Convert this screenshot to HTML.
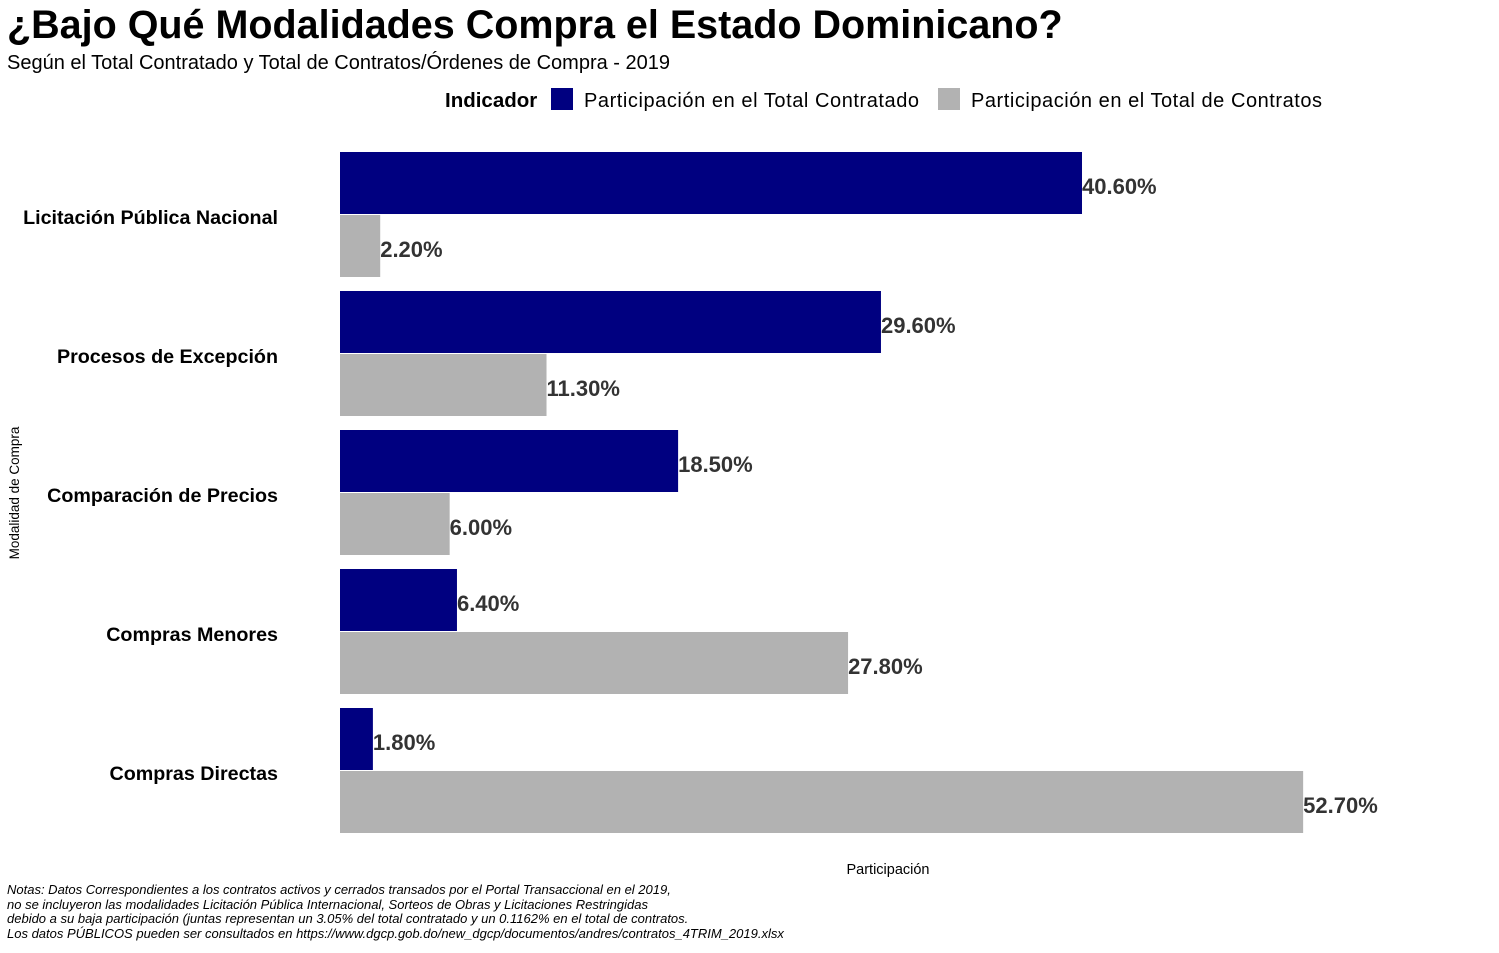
<!DOCTYPE html>
<html><head><meta charset="utf-8"><style>
body{margin:0;background:#fff;font-family:"Liberation Sans",Arial,sans-serif;}
</style></head><body>
<svg width="1499" height="948" xmlns="http://www.w3.org/2000/svg" font-family="Liberation Sans, Arial, sans-serif">
<text x="7" y="38" font-size="39.5" font-weight="bold" fill="#000">¿Bajo Qué Modalidades Compra el Estado Dominicano?</text>
<text x="7" y="69" font-size="20" fill="#000">Según el Total Contratado y Total de Contratos/Órdenes de Compra - 2019</text>
<g>
<text x="445" y="107" font-size="20.5" font-weight="bold">Indicador</text>
<rect x="551" y="88" width="22" height="22" fill="#000080"/>
<text x="584" y="107" font-size="20" textLength="335">Participación en el Total Contratado</text>
<rect x="938" y="88" width="22" height="22" fill="#b2b2b2"/>
<text x="971" y="107" font-size="20" textLength="351">Participación en el Total de Contratos</text>
</g>
<text transform="translate(19,493) rotate(-90)" text-anchor="middle" font-size="13.5">Modalidad de Compra</text>
<text x="888" y="874" text-anchor="middle" font-size="14.5">Participación</text>
<g font-size="13" font-style="italic">
<text x="7" y="894">Notas: Datos Correspondientes a los contratos activos y cerrados transados por el Portal Transaccional en el 2019,</text>
<text x="7" y="909">no se incluyeron las modalidades Licitación Pública Internacional, Sorteos de Obras y Licitaciones Restringidas</text>
<text x="7" y="923">debido a su baja participación (juntas representan un 3.05% del total contratado y un 0.1162% en el total de contratos.</text>
<text x="7" y="938">Los datos PÚBLICOS pueden ser consultados en https://www.dgcp.gob.do/new_dgcp/documentos/andres/contratos_4TRIM_2019.xlsx</text>
</g>
<g id="plot"></g>
</svg>
<script>
const categories=["Licitación Pública Nacional","Procesos de Excepción","Comparación de Precios","Compras Menores","Compras Directas"];
const totalContratado=[40.6,29.6,18.5,6.4,1.8];
const totalContratos=[2.2,11.3,6.0,27.8,52.7];
const NS="http://www.w3.org/2000/svg";
const plot=document.getElementById('plot');
const x=v=>340+v*18.276;
const yTop=i=>152+i*139;
function mk(tag,attrs){const e=document.createElementNS(NS,tag);for(const k in attrs)e.setAttribute(k,attrs[k]);plot.appendChild(e);return e;}
categories.forEach((c,i)=>{
  const t=mk('text',{x:278,y:yTop(i)+72,'text-anchor':'end','font-size':19.7,'font-weight':'bold'});
  t.textContent=c;
  
  
  [[totalContratado[i],'#000080',0,'bar-contratado'],[totalContratos[i],'#b2b2b2',63,'bar-contratos']].forEach(([v,col,off,nm])=>{
    const r=mk('rect',{x:340,y:yTop(i)+off,width:x(v)-340,height:62,fill:col});
    
    
    const l=mk('text',{x:x(v),y:yTop(i)+off+42,'font-size':22,'font-weight':'bold',fill:'#333'});
    l.textContent=v.toFixed(2)+'%';
    
    
  });
});
</script>
</body></html>
